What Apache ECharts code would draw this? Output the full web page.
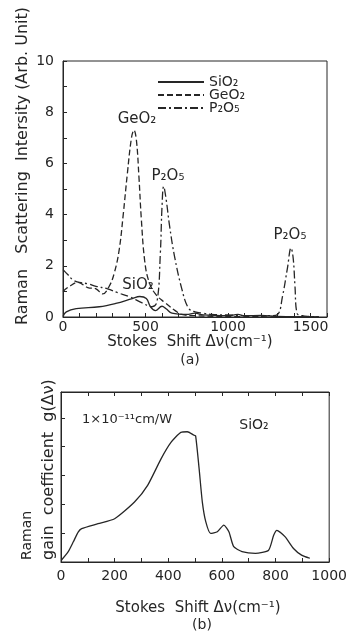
<!DOCTYPE html>
<html>
<head>
<meta charset="utf-8">
<script src="https://cdn.jsdelivr.net/npm/echarts@6/dist/echarts.min.js"></script>
<style>
  html, body { margin: 0; padding: 0; background: #fff; }
  #container { width: 350px; height: 631px; }
</style>
</head>
<body>
<div id="container"></div>
<script>
// (a) spontaneous Raman spectra
var sio2Shift = [0, 20, 80, 220, 320, 420, 465, 505, 530, 560, 600, 625, 660, 750, 800, 850, 1000, 1060, 1100, 1200, 1300, 1550];
var sio2Int   = [0.02, 0.2, 0.33, 0.4, 0.53, 0.72, 0.8, 0.72, 0.4, 0.25, 0.42, 0.32, 0.15, 0.1, 0.15, 0.08, 0.05, 0.1, 0.05, 0.06, 0.02, 0];

var geo2Shift = [0, 40, 90, 150, 200, 240, 280, 310, 340, 365, 390, 415, 430, 445, 460, 475, 495, 520, 560, 620, 680, 720, 800, 1000, 1550];
var geo2Int   = [1.0, 1.2, 1.35, 1.15, 1.1, 0.9, 1.2, 1.7, 2.6, 4.0, 5.6, 7.0, 7.3, 6.9, 5.5, 3.8, 2.2, 1.4, 0.9, 0.55, 0.25, 0.1, 0.05, 0.02, 0];

var p2o5Shift = [0, 30, 60, 100, 150, 200, 270, 330, 400, 480, 540, 570, 590, 600, 610, 625, 645, 675, 720, 760, 800, 850, 900, 1000, 1100, 1250, 1300, 1330, 1360, 1382, 1395, 1406, 1418, 1450, 1500, 1550];
var p2o5Int   = [1.85, 1.65, 1.45, 1.35, 1.3, 1.2, 1.1, 0.95, 0.8, 0.55, 0.4, 0.6, 2.5, 4.3, 5.1, 4.6, 3.6, 2.4, 1.1, 0.35, 0.2, 0.15, 0.1, 0.08, 0.05, 0.05, 0.1, 0.8, 1.9, 2.7, 2.3, 1.2, 0.15, 0.05, 0.02, 0];

// (b) Raman gain coefficient of SiO2
var gainShift = [2, 27, 46, 64, 77, 138, 200, 274, 323, 373, 410, 447, 471, 496, 502, 515, 527, 540, 558, 583, 607, 626, 644, 675, 725, 774, 793, 805, 836, 867, 897, 928];
var gainVal   = [0.07, 0.36, 0.7, 1.04, 1.16, 1.33, 1.5, 2.08, 2.66, 3.58, 4.15, 4.5, 4.52, 4.4, 4.38, 3.24, 2.08, 1.39, 0.99, 1.05, 1.28, 1.05, 0.53, 0.36, 0.3, 0.41, 0.93, 1.1, 0.87, 0.47, 0.24, 0.13];

var seriesNames = ['SiO₂', 'GeO₂', 'P₂O₅'];

function pairs(xs, ys) {
    return xs.map(function(x, i) { return [x, ys[i]]; });
}

var ink = '#262626';
var font = 'DejaVu Sans, sans-serif';

var tickStyle = { show: true, inside: true, length: 4, lineStyle: { color: ink } };

function label(text, x, y, size, opts) {
    var g = {
        type: 'text', x: x, y: y,
        style: { text: text, font: size + 'px ' + font, fill: ink, align: 'center', verticalAlign: 'middle' }
    };
    if (opts && opts.rotate) g.rotation = Math.PI / 2;
    if (opts && opts.align) g.style.align = opts.align;
    return g;
}

var option = {
    backgroundColor: '#fff',
    animation: false,
    textStyle: { fontFamily: font, color: ink },
    legend: {
        data: seriesNames,
        orient: 'vertical',
        left: 152,
        top: 70,
        itemWidth: 46,
        itemHeight: 12,
        itemGap: -1,
        itemStyle: { opacity: 0 },
        textStyle: { fontSize: 14, color: ink, fontFamily: font }
    },
    grid: [
        { left: 63, right: 23, top: 61, bottom: 314, show: true, borderColor: ink, borderWidth: 1 },
        { left: 61, right: 19, top: 392, bottom: 69, show: true, borderColor: ink, borderWidth: 1 }
    ],
    xAxis: [{
        gridIndex: 0, type: 'value', min: 0, max: 1600, interval: 100,
        axisLine: { lineStyle: { color: ink } },
        axisTick: tickStyle,
        splitLine: { show: false },
        axisLabel: {
            margin: 3, fontSize: 14, color: ink,
            formatter: function(v) { return v % 500 === 0 && v < 1600 ? v : ''; }
        }
    }, {
        gridIndex: 1, type: 'value', min: 0, max: 1000, interval: 100,
        axisLine: { lineStyle: { color: ink } },
        axisTick: tickStyle,
        splitLine: { show: false },
        axisLabel: {
            margin: 7, fontSize: 14, color: ink,
            formatter: function(v) { return v % 200 === 0 ? v : ''; }
        }
    }, {
        gridIndex: 1, type: 'value', min: 0, max: 1000, interval: 100, position: 'top',
        axisLine: { lineStyle: { color: ink } },
        axisTick: tickStyle,
        splitLine: { show: false },
        axisLabel: { show: false }
    }],
    yAxis: [{
        gridIndex: 0, type: 'value', min: 0, max: 10, interval: 1,
        axisLine: { show: true, lineStyle: { color: ink } },
        axisTick: tickStyle,
        splitLine: { show: false },
        axisLabel: {
            margin: 9, fontSize: 14, color: ink,
            formatter: function(v) { return v % 2 === 0 ? v : ''; }
        }
    }, {
        gridIndex: 1, type: 'value', min: 0, max: 5.9, interval: 1,
        axisLine: { show: true, lineStyle: { color: ink } },
        axisTick: tickStyle,
        splitLine: { show: false },
        axisLabel: { show: false }
    }],
    series: [{
        name: seriesNames[0], type: 'line', xAxisIndex: 0, yAxisIndex: 0,
        smooth: 0.4, symbol: 'none',
        lineStyle: { color: ink, width: 1.3, type: 'solid' },
        itemStyle: { color: ink },
        data: pairs(sio2Shift, sio2Int)
    }, {
        name: seriesNames[1], type: 'line', xAxisIndex: 0, yAxisIndex: 0,
        smooth: 0.4, symbol: 'none',
        lineStyle: { color: ink, width: 1.3, type: [6, 3] },
        itemStyle: { color: ink },
        data: pairs(geo2Shift, geo2Int)
    }, {
        name: seriesNames[2], type: 'line', xAxisIndex: 0, yAxisIndex: 0,
        smooth: 0.4, symbol: 'none',
        lineStyle: { color: ink, width: 1.3, type: [8, 3, 2, 3] },
        itemStyle: { color: ink },
        data: pairs(p2o5Shift, p2o5Int)
    }, {
        name: 'gain', type: 'line', xAxisIndex: 1, yAxisIndex: 1,
        smooth: 0.2, symbol: 'none',
        lineStyle: { color: ink, width: 1.3 },
        data: pairs(gainShift, gainVal)
    }],
    graphic: [
        label('Raman   Scattering  Intersity (Arb. Unit)', 23, 166, 16, { rotate: true }),
        label('Stokes  Shift Δν(cm⁻¹)', 190, 342, 15),
        label('(a)', 190, 360, 14),
        label('GeO₂', 137, 119, 15),
        label('P₂O₅', 168, 176, 15),
        label('SiO₂', 138, 285, 15),
        label('P₂O₅', 290, 235, 15),
        label('Raman', 27, 560, 14, { rotate: true, align: 'left' }),
        label('gain  coefficient  g(Δν)', 49, 560, 16, { rotate: true, align: 'left' }),
        label('1×10⁻¹¹cm/W', 82, 420, 13, { align: 'left' }),
        label('SiO₂', 254, 425, 14),
        label('Stokes  Shift Δν(cm⁻¹)', 198, 608, 15),
        label('(b)', 202, 625, 14)
    ]
};

var myChart = echarts.init(document.getElementById('container'));
myChart.setOption(option);
</script>
</body>
</html>
